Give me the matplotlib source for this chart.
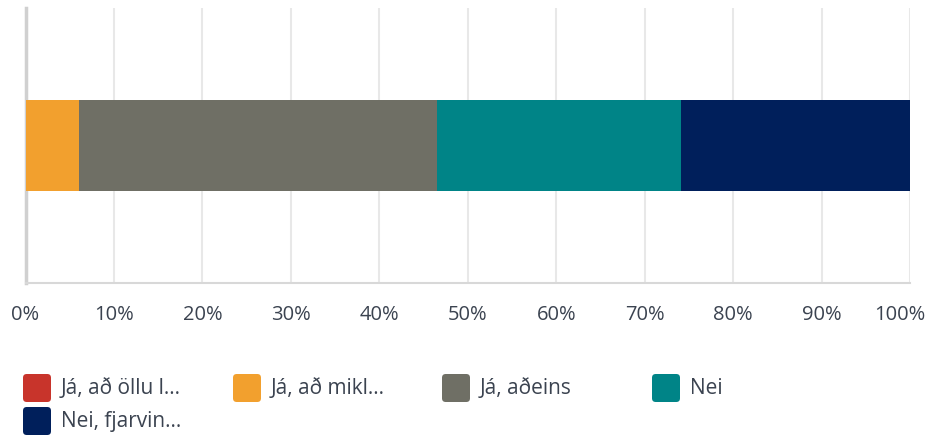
import matplotlib
matplotlib.use("Agg")
import matplotlib.pyplot as plt
import matplotlib.transforms as mtransforms
from matplotlib.patches import FancyBboxPatch

categories = ["Já, að öllu l...", "Já, að mikl...", "Já, aðeins", "Nei", "Nei, fjarvin..."]
values = [0.0, 6.1, 40.4, 27.6, 25.9]
colors = ["#c8342b", "#f2a02e", "#6f6f65", "#008487", "#001f5b"]
ticks = [0, 10, 20, 30, 40, 50, 60, 70, 80, 90, 100]
tick_labels = [f"{t}%" for t in ticks]

plt.rcParams['font.family'] = ['Open Sans', 'DejaVu Sans']
W, H = 931, 438
fig = plt.figure(figsize=(W / 100, H / 100), dpi=100)
ax = fig.add_axes([25.5 / W, (H - 283) / H, (910 - 25.5) / W, (283 - 8) / H])

left = 0.0
for v, c in zip(values, colors):
    ax.barh(0, v, left=left, height=0.331, color=c, edgecolor='none', zorder=3)
    left += v

ax.set_xlim(0, 100)
ax.set_ylim(-0.5, 0.5)
ax.set_xticks(ticks)
ax.set_xticklabels(tick_labels, fontsize=14.5, color="#3b4350")
ax.set_yticks([])
ax.tick_params(axis='x', length=0, pad=16)
ax.grid(axis='x', color="#e8e8e8", linewidth=1.5, zorder=0)
for s in ['top', 'right']:
    ax.spines[s].set_visible(False)
ax.spines['left'].set_color("#d0d0d0")
ax.spines['left'].set_linewidth(2.5)
ax.spines['bottom'].set_color("#d8d8d8")
ax.spines['bottom'].set_linewidth(1.5)

# keep the last tick label inside the figure (shifted left as in the reference)
last = ax.get_xticklabels()[-1]
last.set_transform(last.get_transform() +
                   mtransforms.ScaledTranslation(-10 / 100, 0, fig.dpi_scale_trans))

# legend (manual)
col_x = [23, 233, 442, 652]
row_y = [374, 407]
size = 28
for i, (lab, c) in enumerate(zip(categories, colors)):
    r, k = divmod(i, 4)
    x0 = col_x[k]
    y0 = row_y[r]
    p = FancyBboxPatch((x0 / W, 1 - (y0 + size) / H), size / W, size / H,
                       boxstyle="round,pad=0,rounding_size=0.004",
                       transform=fig.transFigure, facecolor=c, edgecolor='none',
                       mutation_aspect=W / H)
    fig.patches.append(p)
    fig.text((x0 + 38) / W, 1 - (y0 + size / 2 + 1) / H, lab, fontsize=15,
             color="#3b4350", va='center', ha='left')

fig.savefig("out.png", dpi=100)
